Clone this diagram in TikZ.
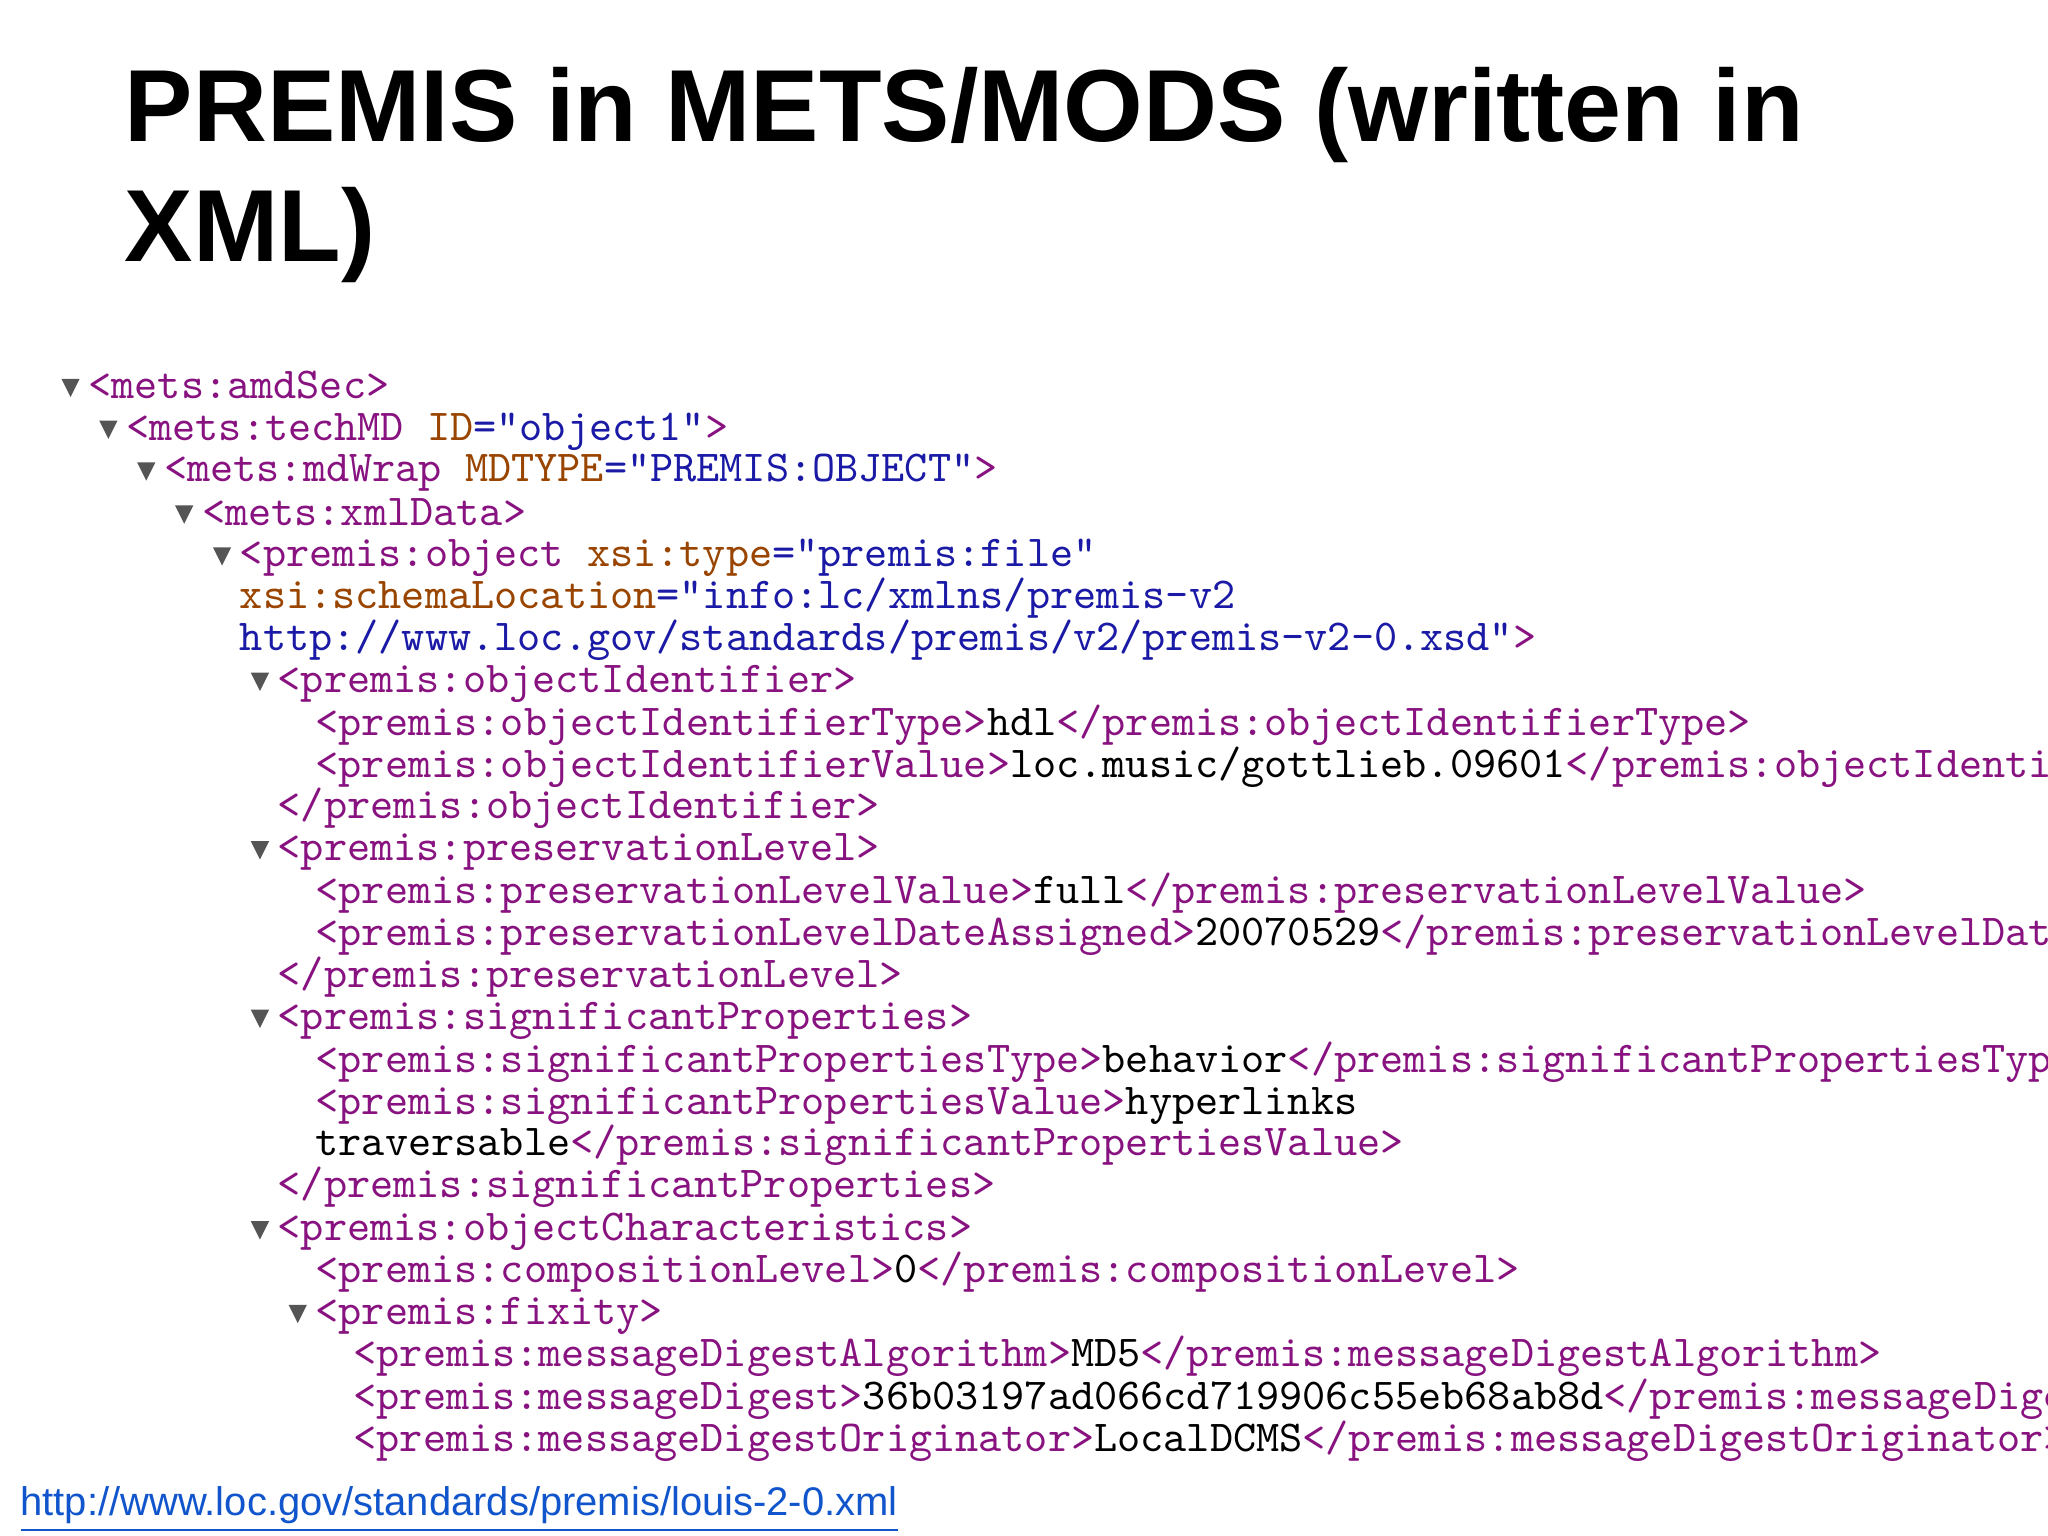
\documentclass[tikz,border=0pt]{standalone}
\usepackage{fontspec}
\setmainfont{Liberation Sans}
\definecolor{tagc}{HTML}{881280}
\definecolor{attc}{HTML}{994500}
\definecolor{valc}{HTML}{1A1AA6}
\definecolor{tric}{HTML}{555555}
\definecolor{urlc}{HTML}{1155CC}
\newcommand\Tg[1]{\textcolor{tagc}{#1}}
\newcommand\At[1]{\textcolor{attc}{#1}}
\newcommand\Vl[1]{\textcolor{valc}{#1}}
\tikzset{
  code/.style={anchor=base west,inner sep=0pt,font=\ttfamily\fontsize{9.6}{11}\selectfont},
  ttitle/.style={anchor=base west,inner sep=0pt,font=\bfseries\fontsize{22.3}{26}\selectfont},
  tri/.style={fill=tric,draw=none}
}
\newcommand\Tri[2]{\fill[tri] (#1-7,#2-6) -- (#1+7,#2-6) -- (#1,#2+8) -- cycle;}
\begin{document}
\begin{tikzpicture}[x=0.01cm,y=-0.01cm]
\useasboundingbox (0,0) rectangle (1568,1176);
\clip (0,0) rectangle (1568,1176);
\fill[white] (0,0) rectangle (1568,1176);
\node[ttitle] (t1) at (95,108) {PREMIS in METS/MODS (written in};
\node[ttitle] (t2) at (95,200) {XML)};
% code lines
\node[code] (l1) at (67,305) {\Tg{<mets:amdSec>}};
\node[code] (l2) at (96,337) {\Tg{<mets:techMD} \At{ID}\Vl{="object1"}\Tg{>}};
\node[code] (l3) at (125,369) {\Tg{<mets:mdWrap} \At{MDTYPE}\Vl{="PREMIS:OBJECT"}\Tg{>}};
\node[code] (l4) at (154,402) {\Tg{<mets:xmlData>}};
\node[code] (l5) at (183,434) {\Tg{<premis:object} \At{xsi:type}\Vl{="premis:file"}};
\node[code] (l6) at (183,466) {\At{xsi:schemaLocation}\Vl{="info:lc/xmlns/premis-v2}};
\node[code] (l7) at (183,498) {\Vl{http://www.loc.gov/standards/premis/v2/premis-v2-0.xsd"}\Tg{>}};
\node[code] (l8) at (212,530) {\Tg{<premis:objectIdentifier>}};
\node[code] (l9) at (241,563) {\Tg{<premis:objectIdentifierType>}hdl\Tg{</premis:objectIdentifierType>}};
\node[code] (l10) at (241,595) {\Tg{<premis:objectIdentifierValue>}loc.music/gottlieb.09601\Tg{</premis:objectIdentifierValue>}};
\node[code] (l11) at (212,627) {\Tg{</premis:objectIdentifier>}};
\node[code] (l12) at (212,659) {\Tg{<premis:preservationLevel>}};
\node[code] (l13) at (241,692) {\Tg{<premis:preservationLevelValue>}full\Tg{</premis:preservationLevelValue>}};
\node[code] (l14) at (241,724) {\Tg{<premis:preservationLevelDateAssigned>}20070529\Tg{</premis:preservationLevelDateAssigned>}};
\node[code] (l15) at (212,756) {\Tg{</premis:preservationLevel>}};
\node[code] (l16) at (212,788) {\Tg{<premis:significantProperties>}};
\node[code] (l17) at (241,821) {\Tg{<premis:significantPropertiesType>}behavior\Tg{</premis:significantPropertiesType>}};
\node[code] (l18) at (241,853) {\Tg{<premis:significantPropertiesValue>}hyperlinks};
\node[code] (l19) at (241,885) {traversable\Tg{</premis:significantPropertiesValue>}};
\node[code] (l20) at (212,917) {\Tg{</premis:significantProperties>}};
\node[code] (l21) at (212,950) {\Tg{<premis:objectCharacteristics>}};
\node[code] (l22) at (241,982) {\Tg{<premis:compositionLevel>}0\Tg{</premis:compositionLevel>}};
\node[code] (l23) at (241,1014) {\Tg{<premis:fixity>}};
\node[code] (l24) at (270,1046) {\Tg{<premis:messageDigestAlgorithm>}MD5\Tg{</premis:messageDigestAlgorithm>}};
\node[code] (l25) at (270,1079) {\Tg{<premis:messageDigest>}36b03197ad066cd719906c55eb68ab8d\Tg{</premis:messageDigest>}};
\node[code] (l26) at (270,1111) {\Tg{<premis:messageDigestOriginator>}LocalDCMS\Tg{</premis:messageDigestOriginator>}};
% triangles
\Tri{54}{296}
\Tri{83}{328}
\Tri{112}{360}
\Tri{141}{393}
\Tri{170}{425}
\Tri{199}{521}
\Tri{199}{650}
\Tri{199}{779}
\Tri{199}{941}
\Tri{228}{1005}
% url
\node[anchor=base west,inner sep=0pt,text=urlc,font=\fontsize{8.7}{10}\selectfont] (url) at (15,1160) {\underline{http://www.loc.gov/standards/premis/louis-2-0.xml}};
\end{tikzpicture}
\end{document}
